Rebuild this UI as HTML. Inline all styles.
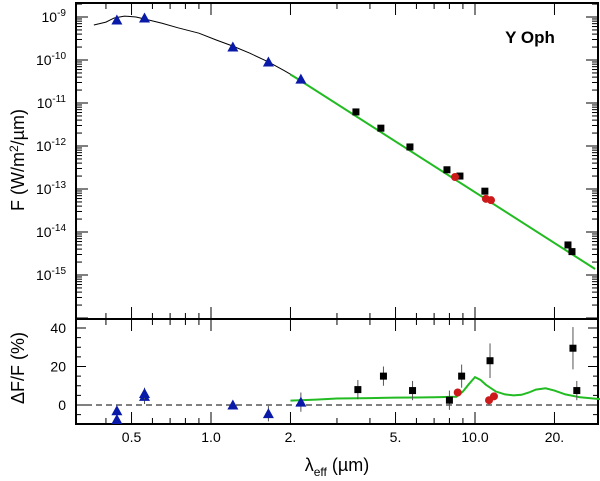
<!DOCTYPE html>
<html><head><meta charset="utf-8"><style>
body{margin:0;background:#fff;}
svg{display:block;font-family:"Liberation Sans",Arial,sans-serif;}
</style></head><body>
<svg id="c" width="600" height="481" viewBox="0 0 600 481"></svg>
<script>
// ---- data ----
const modelLam=[0.36,0.40,0.43,0.47,0.52,0.56,0.65,0.75,0.9,1.05,1.21,1.4,1.65,1.9,2.15];
const modelFlux=[6.5e-10,7.6e-10,9.5e-10,1.05e-9,1.0e-9,9.0e-10,7.2e-10,5.6e-10,4.2e-10,2.9e-10,2.1e-10,1.45e-10,9e-11,5.6e-11,3.6e-11];
const fitLam=[2.0,2.15,28.5];
const fitFlux=[4.6e-11,3.5e-11,1.38e-15];
const triLam=[0.44,0.56,1.21,1.65,2.19];
const triFlux=[8.5e-10,9.5e-10,2.0e-10,9e-11,3.6e-11];
const sqLam=[3.54,4.4,5.67,7.83,8.77,10.9,22.5,23.3];
const sqFlux=[6.2e-12,2.6e-12,9.5e-13,2.8e-13,2.0e-13,8.9e-14,5.0e-15,3.5e-15];
const redLam=[8.4,11.0,11.5];
const redFlux=[1.9e-13,5.9e-14,5.5e-14];
// residuals
const rTriLam=[0.44,0.44,0.56,0.56,1.21,1.65,2.19];
const rTriVal=[-3,-7.5,4.5,6,0,-4.5,1.5];
const rTriErr=[2,2,4,3,2,4,5];
const rSqLam=[3.6,4.5,5.8,8.0,8.9,11.4,23.5,24.3];
const rSqVal=[8,15,7.5,2.5,15,23,29.5,7.5];
const rSqErr=[5,5,5,5,6,9,11,5];
const rRedLam=[8.6,11.3,11.8];
const rRedVal=[6.5,2.5,4.5];
const resLam=[2.0,2.5,3.0,4.0,5.0,6.0,7.0,8.5,9.0,9.5,10.0,10.5,11.0,12.0,13.0,14.0,15.0,16.0,17.0,18.5,20.0,22.0,25.0,30.0];
const resVal=[2.3,2.8,3.4,3.6,3.8,3.9,4.0,4.3,7,11,14.5,13,10.5,7,5.5,5,5.3,6.5,8,8.7,7.5,5.5,4,3];
const yTicksTop=[-9,-10,-11,-12,-13,-14,-15];
const xLabels=["0.5","1.0","2.","5.","10.0","20."];
const xLabelVals=[0.5,1,2,5,10,20];
const resTicks=[40,20,0];

// ---- axes ----
const L=76,R=598,T=3,MID=319,B=424;
const X=l=>475+264*Math.log10(l/10);
const Y=f=>17-43*(Math.log10(f)+9);
const YR=v=>405-1.925*v;
const svg=document.getElementById('c');
const NS='http://www.w3.org/2000/svg';
function mk(t,a,p){const e=document.createElementNS(NS,t);for(const k in a)e.setAttribute(k,a[k]);(p||svg).appendChild(e);return e;}

let e;
e=mk('rect',{x:L,y:T,width:R-L,height:MID-T,fill:'none',stroke:'#000','stroke-width':2});


e=mk('rect',{x:L,y:MID,width:R-L,height:B-MID,fill:'none',stroke:'#000','stroke-width':2});



const minor=[];
for(const d of [0.1,1,10]) for(let k=1;k<10;k++){const v=d*k; if(v>=0.31&&v<=29) minor.push(v);}
for(const v of minor){
  const x=X(v); const major=[0.5,1,2,5,10,20].some(m=>Math.abs(m-v)<1e-6);
  const len=major?12:6;
  for(const [yy,dir] of [[T,1],[MID,-1],[MID,1],[B,-1]]){
    mk('line',{x1:x,x2:x,y1:yy,y2:yy+dir*len,stroke:'#000','stroke-width':1});
  }
}
xLabels.forEach((s,i)=>{
  e=mk('text',{x:X(xLabelVals[i]),y:442,'text-anchor':'middle','font-size':14});
  e.textContent=s;
  
  
});
for(let p=-16;p<=-9;p++){
  for(let k=1;k<10;k++){
    const y=Y(k*Math.pow(10,p)); if(y<T||y>MID) continue;
    const len=k===1?12:6;
    mk('line',{x1:L,x2:L+len,y1:y,y2:y,stroke:'#000'});
    mk('line',{x1:R,x2:R-len,y1:y,y2:y,stroke:'#000'});
  }
}
yTicksTop.forEach(p=>{
  e=mk('text',{x:66,y:Y(Math.pow(10,p))+5,'text-anchor':'end','font-size':14});
  e.innerHTML='10<tspan dy="-6" font-size="10">'+p+'</tspan>';
  
  
});
for(let v=-10;v<=45;v+=5){
  const y=YR(v); const len=v%20===0?10:5;
  mk('line',{x1:L,x2:L+len,y1:y,y2:y,stroke:'#000'});
  mk('line',{x1:R,x2:R-len,y1:y,y2:y,stroke:'#000'});
}
resTicks.forEach(v=>{
  e=mk('text',{x:66,y:YR(v)+5,'text-anchor':'end','font-size':14});
  e.textContent=v;
  
  
});
e=mk('line',{x1:L,x2:R,y1:YR(0),y2:YR(0),stroke:'#000','stroke-dasharray':'6,4'});



e=mk('text',{x:0,y:0,'font-size':18,'text-anchor':'middle',transform:'translate(24,160) rotate(-90)'});
e.innerHTML='F (W/m<tspan dy="-6" font-size="12">2</tspan><tspan dy="6">/µm)</tspan>';


e=mk('text',{x:0,y:0,'font-size':18,'text-anchor':'middle',transform:'translate(24,368) rotate(-90)'});
e.textContent='ΔF/F (%)';


e=mk('text',{x:337,y:471,'font-size':18,'text-anchor':'middle'});
e.innerHTML='λ<tspan dy="5" font-size="12">eff</tspan><tspan dy="-5"> (µm)</tspan>';


e=mk('text',{x:530,y:43,'font-size':17,'font-weight':'bold','text-anchor':'middle'});
e.textContent='Y Oph';



e=mk('polyline',{points:modelLam.map((l,i)=>X(l)+','+Y(modelFlux[i])).join(' '),fill:'none',stroke:'#000','stroke-width':1});


e=mk('polyline',{points:fitLam.map((l,i)=>X(l)+','+Y(fitFlux[i])).join(' '),fill:'none',stroke:'#22bb22','stroke-width':2});


e=mk('polyline',{points:resLam.map((l,i)=>X(l)+','+YR(resVal[i])).join(' '),fill:'none',stroke:'#22bb22','stroke-width':2});



function tri(x,y,name){e=mk('polygon',{points:`${x},${y-5.5} ${x-5.5},${y+4.5} ${x+5.5},${y+4.5}`,fill:'#0a1aa8'});
  
  }
function sq(x,y,name){e=mk('rect',{x:x-3.5,y:y-3.5,width:7,height:7,fill:'#000'});
  
  }
function dot(x,y,name){e=mk('circle',{cx:x,cy:y,r:4,fill:'#cc1a1a'});
  
  }
function err(x,v,er){mk('line',{x1:x,x2:x,y1:YR(v-er),y2:YR(v+er),stroke:'#555','stroke-width':1});}

triLam.forEach((l,i)=>tri(X(l),Y(triFlux[i]),'photometry-triangle'));
sqLam.forEach((l,i)=>sq(X(l),Y(sqFlux[i]),'photometry-square'));
redLam.forEach((l,i)=>dot(X(l),Y(redFlux[i]),'photometry-circle'));
rTriLam.forEach((l,i)=>{err(X(l),rTriVal[i],rTriErr[i]);tri(X(l),YR(rTriVal[i]),'residual-triangle');});
rSqLam.forEach((l,i)=>{err(X(l),rSqVal[i],rSqErr[i]);sq(X(l),YR(rSqVal[i]),'residual-square');});
rRedLam.forEach((l,i)=>{err(X(l),rRedVal[i],2);dot(X(l),YR(rRedVal[i]),'residual-circle');});
</script>
</body></html>
